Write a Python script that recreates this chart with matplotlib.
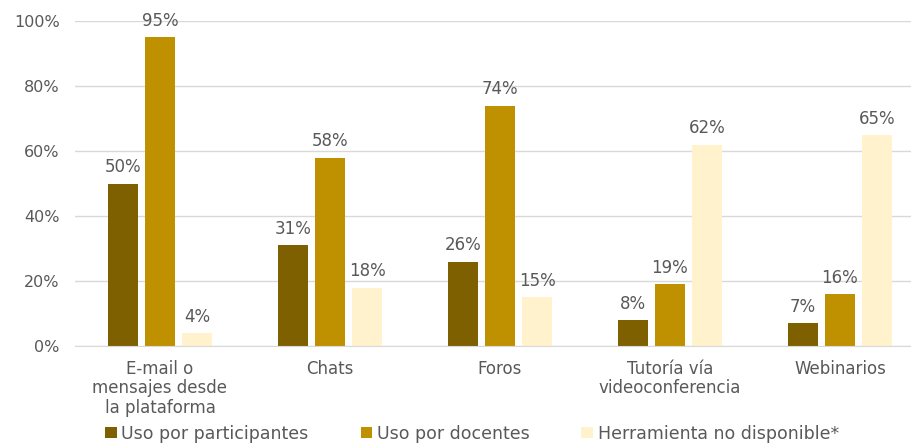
import numpy as np
import matplotlib.pyplot as plt

plt.rcParams['font.family'] = ['DejaVu Sans']

categorias = ["E-mail o\nmensajes desde\nla plataforma", "Chats", "Foros",
              "Tutoría vía\nvideoconferencia", "Webinarios"]
participantes = [50, 31, 26, 8, 7]
docentes = [95, 58, 74, 19, 16]
no_disponible = [4, 18, 15, 62, 65]

series = [
    ("Uso por participantes", participantes, "#7F6000"),
    ("Uso por docentes", docentes, "#BF9000"),
    ("Herramienta no disponible*", no_disponible, "#FFF2CC"),
]

gris = "#595959"
fig = plt.figure(figsize=(9.12, 4.44), dpi=100)
ax = fig.add_axes([0.0822, 0.2207, 0.932, 0.732])

x = np.arange(len(categorias))
ancho = 0.176
paso = 0.218
for i, (nombre, vals, color) in enumerate(series):
    pos = x + (i - 1) * paso
    barras = ax.bar(pos, vals, width=ancho, color=color, label=nombre, zorder=3)
    for b, v in zip(barras, vals):
        ax.text(b.get_x() + b.get_width() / 2, v + 3.4, f"{v}%",
                ha="center", va="baseline", fontsize=12, color=gris)

ax.set_xlim(-0.5, len(categorias) - 0.5)
ax.set_ylim(0, 100)
ax.set_yticks(range(0, 101, 20))
ax.set_yticklabels([f"{t}%" for t in range(0, 101, 20)])
ax.set_xticks(x)
ax.set_xticklabels(categorias, linespacing=1.1)
ax.tick_params(axis="both", length=0, colors=gris, labelsize=11.5)
ax.tick_params(axis="x", pad=10, labelsize=12)
ax.tick_params(axis="y", pad=11)
ax.grid(axis="y", color="#D9D9D9", linewidth=1, zorder=0)
for s in ["top", "right", "left"]:
    ax.spines[s].set_visible(False)
ax.spines["bottom"].set_color("#D9D9D9")
ax.spines["bottom"].set_zorder(4)

fig.legend(loc="lower center", bbox_to_anchor=(0.5175, -0.032), ncol=3,
           frameon=False, fontsize=12.5, handlelength=0.68, handleheight=0.68,
           handletextpad=0.25, columnspacing=3.0, labelcolor=gris)

fig.savefig("out.png", dpi=100)
